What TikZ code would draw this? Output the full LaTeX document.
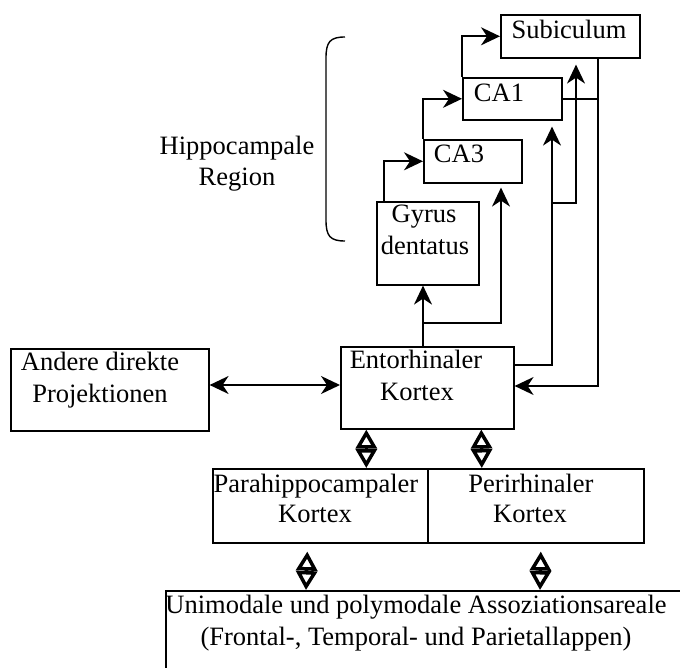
\documentclass[tikz,border=0pt]{standalone}
\usepackage{fontspec}
\setmainfont{Liberation Serif}
\usetikzlibrary{arrows.meta,calc}
\begin{document}
\begin{tikzpicture}[x=1pt,y=-1pt,
  every node/.style={font=\fontsize{26.5}{33}\selectfont},
  box/.style={draw,line width=1.6pt,rectangle,inner sep=0pt,anchor=north west},
  txt/.style={anchor=base,inner sep=0pt},
  conn/.style={line width=1.6pt},
  tip/.tip={Stealth[length=19pt,width=18pt,inset=6pt]},
  arr/.style={conn,-tip},
  darr/.style={conn,tip-tip},
  dtip/.tip={Triangle[open,length=19pt,width=21pt]},
  dia/.style={line width=3.5pt,line join=miter,dtip-dtip}]
\useasboundingbox (0,0) rectangle (680,668);
% boxes
\node[box,minimum width=139pt,minimum height=43pt] (sub) at (500,14) {};
\node[box,minimum width=99pt,minimum height=42pt] (ca1) at (462,77) {};
\node[box,minimum width=98pt,minimum height=43pt] (ca3) at (423,139) {};
\node[box,minimum width=102pt,minimum height=83pt] (gd) at (376,201) {};
\node[box,minimum width=198pt,minimum height=82pt] (and) at (10,348) {};
\node[box,minimum width=173pt,minimum height=82pt] (ent) at (340,346) {};
\node[box,minimum width=215pt,minimum height=74pt] (para) at (212,468) {};
\node[box,minimum width=216pt,minimum height=74pt] (peri) at (427,468) {};
\node[box,minimum width=540pt,minimum height=120pt] (uni) at (165,590) {};
% texts
\node[txt] (tsub) at (569,39) {Subiculum};
\node[txt] (tca1) at (499,102) {CA1};
\node[txt] (tca3) at (459,163) {CA3};
\node[txt] (tgd1) at (424,223) {Gyrus};
\node[txt] (tgd2) at (425,255) {dentatus};
\node[txt] (tand1) at (100,370) {Andere direkte};
\node[txt] (tand2) at (100,402) {Projektionen};
\node[txt] (tent1) at (416,368) {Entorhinaler};
\node[txt] (tent2) at (417,400) {Kortex};
\node[txt] (tpara1) at (316,492) {Parahippocampaler};
\node[txt] (tpara2) at (315,522) {Kortex};
\node[txt] (tperi1) at (531,492) {Perirhinaler};
\node[txt] (tperi2) at (530,522) {Kortex};
\node[txt] (tuni1) at (416,613) {Unimodale und polymodale Assoziationsareale};
\node[txt] (tuni2) at (416,645) {(Frontal-, Temporal- und Parietallappen)};
\node[txt] (thip1) at (237,155) {Hippocampale};
\node[txt] (thip2) at (237,186) {Region};
% brace
\draw[line width=1.4pt] (345,37) .. controls (330,37) and (326,42) .. (326,58)
  -- (326,220) .. controls (326,236) and (330,241) .. (345,241);
% coordinates
\coordinate (xa) at (423,0);
\coordinate (xb) at (501,0);
\coordinate (xc) at (552,0);
\coordinate (xd) at (576,0);
\coordinate (xe) at (598,0);
\coordinate (ba) at (423,323);
\coordinate (bc) at (552,203);
\coordinate (ya) at (0,365);
\coordinate (yb) at (0,386);
\coordinate (yc) at (0,385);
% hippocampal chain
\draw[arr] ($(gd.north west)+(8,0)$) |- (ca3.west);
\draw[arr] (ca3.north west) |- (ca1.west);
\draw[arr] (ca1.north west) |- (sub.west);
% entorhinal to hippocampus
\draw[arr] (ent.north -| xa) -- (gd.south -| xa);
\draw[arr] (ba) -| ($(ca3.south -| xb)+(0,4)$);
\draw[arr] (ent.east |- ya) -| ($(ca1.south -| xc)+(0,6)$);
\draw[arr] (bc) -| ($(sub.south -| xd)+(0,6)$);
\draw[conn] (ca1.east) -- (ca1.east -| xe);
\draw[arr] (sub.south -| xe) |- (ent.east |- yb);
% others
\draw[darr] (and.east |- yc) -- (ent.west |- yc);
\draw[dia] ($(ent.south)+(-61,0)$) -- ($(para.north)+(46,0)$);
\draw[dia] ($(ent.south)+(54,0)$) -- ($(peri.north)+(-54,0)$);
\draw[dia] ($(para.south)+(-13,8)$) -- ($(uni.north west)+(141,0)$);
\draw[dia] ($(peri.south)+(5,8)$) -- ($(uni.north west)+(375,0)$);
\end{tikzpicture}
\end{document}
